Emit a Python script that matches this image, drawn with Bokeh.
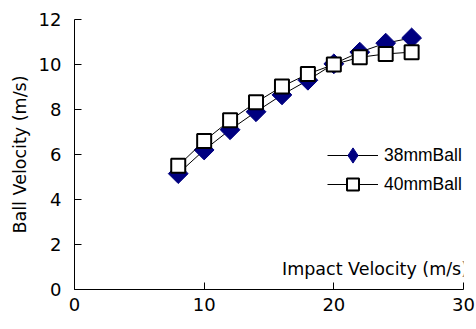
import numpy as np
from bokeh.plotting import figure
from bokeh.models import Range1d, Legend, LegendItem, Label, FixedTicker
from bokeh.embed import file_html
from bokeh.resources import INLINE

impact = [8, 10, 12, 14, 16, 18, 20, 22, 24, 26]
ball_38 = [5.15, 6.2, 7.1, 7.9, 8.65, 9.3, 10.03, 10.55, 10.95, 11.18]
ball_40 = [5.5, 6.6, 7.52, 8.32, 9.02, 9.58, 10.0, 10.32, 10.47, 10.55]
x_ticks = [0, 10, 20, 30]
y_ticks = [0, 2, 4, 6, 8, 10, 12]

FONT = "DejaVu Sans"
LFONT = "Liberation Sans"

p = figure(width=476, height=329, output_backend="svg", toolbar_location=None,
           x_range=Range1d(0, 30), y_range=Range1d(0, 12),
           min_border_left=74, min_border_right=13, min_border_top=19,
           min_border_bottom=40)
p.outline_line_color = None
p.xgrid.visible = False
p.ygrid.visible = False
p.background_fill_color = "white"
p.border_fill_color = "white"

for ax in (p.xaxis[0], p.yaxis[0]):
    ax.axis_line_color = "black"
    ax.major_tick_line_color = "black"
    ax.major_tick_in = 7
    ax.major_tick_out = 0
    ax.minor_tick_line_color = None
    ax.major_label_text_font = FONT
    ax.major_label_text_font_size = "18px"
    ax.major_label_text_color = "black"

p.xaxis.ticker = FixedTicker(ticks=x_ticks)
p.yaxis.ticker = FixedTicker(ticks=y_ticks)
p.xaxis.major_label_standoff = 8
p.yaxis.major_label_standoff = 13

p.yaxis.axis_label = "Ball Velocity (m/s)"
p.yaxis.axis_label_text_font = FONT
p.yaxis.axis_label_text_font_size = "17.5px"
p.yaxis.axis_label_text_font_style = "normal"
p.yaxis.axis_label_text_color = "black"
p.yaxis.axis_label_standoff = 6

l38 = p.line(impact, ball_38, line_color="black", line_width=1)
# diamond sample used by the legend (zero size on the plot itself)
d38 = p.scatter(impact, ball_38, marker="diamond", size=0,
                fill_color="#000080", line_color="#000080")
m38 = p.scatter(impact, ball_38, marker="square", angle=np.pi / 4, size=14,
                fill_color="#000080", line_color="#000080")
l40 = p.line(impact, ball_40, line_color="black", line_width=1)
m40 = p.scatter(impact, ball_40, marker="square", size=14,
                fill_color="white", line_color="black", line_width=2)


def style_legend(lg, gh):
    lg.background_fill_alpha = 0
    lg.border_line_color = None
    lg.padding = 0
    lg.margin = 0
    lg.spacing = 0
    lg.glyph_width = 51
    lg.glyph_height = gh
    lg.label_height = gh
    lg.label_standoff = 6
    lg.label_text_font = LFONT
    lg.label_text_font_size = "17.5px"
    lg.label_text_color = "black"


leg1 = Legend(items=[LegendItem(label="38mmBall", renderers=[l38, d38])],
              location=(253, 115))
style_legend(leg1, 38)
leg2 = Legend(items=[LegendItem(label="40mmBall", renderers=[l40, m40])],
              location=(253, 90))
style_legend(leg2, 30)
p.add_layout(leg1, "center")
p.add_layout(leg2, "center")

xlabel = Label(x=30.35, y=0.45, text="Impact Velocity (m/s)", text_align="right",
               text_baseline="bottom", text_font=FONT, text_font_size="17.5px",
               text_color="black")
p.add_layout(xlabel)

open("out.html", "w").write(file_html(p, INLINE))
